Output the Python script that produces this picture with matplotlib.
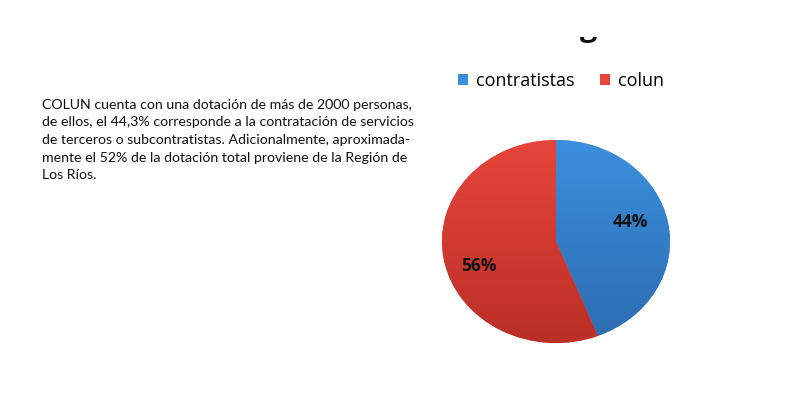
import matplotlib
matplotlib.use("Agg")
import matplotlib.pyplot as plt
import numpy as np
from matplotlib.colors import LinearSegmentedColormap
from matplotlib.patches import Rectangle

categories = ["contratistas", "colun"]
values = [44, 56]
colors_top = ["#3b8fde", "#e7453b"]
colors_bottom = ["#2d6cb0", "#ba2f27"]
pct_labels = ["44%", "56%"]
body_lines = [
    "COLUN cuenta con una dotación de más de 2000 personas,",
    "de ellos, el 44,3% corresponde a la contratación de servicios",
    "de terceros o subcontratistas. Adicionalmente, aproximada-",
    "mente el 52% de la dotación total proviene de la Región de",
    "Los Ríos.",
]
title_tail = "g"

W, H = 800, 398
fig = plt.figure(figsize=(W / 100, H / 100), dpi=100)
fig.patch.set_facecolor("white")

# body text
for i, line in enumerate(body_lines):
    fig.text(42 / W, 1 - (105 + i * 17.5) / H, line, fontsize=10.15,
             family="Lato", ha="left", va="center", color="#111111")

# pie
ax = fig.add_axes([442 / W, 1 - 343 / H, 228 / W, 203 / H])
wedges, texts = ax.pie(values, colors=colors_top, startangle=90, counterclock=False,
                       radius=1.0, wedgeprops=dict(linewidth=0))
ax.set_aspect("auto")
ax.axis("off")
grad = np.linspace(1, 0, 256).reshape(-1, 1)
for w, ct, cb in zip(wedges, colors_top, colors_bottom):
    cmap = LinearSegmentedColormap.from_list("g", [cb, ct])
    im = ax.imshow(grad, cmap=cmap, extent=(-1, 1, -1, 1), aspect="auto",
                   origin="upper", zorder=w.get_zorder() + 0.1)
    im.set_clip_path(w)
ax.set_xlim(-1, 1)
ax.set_ylim(-1, 1)
label_pos = [(0.65, 0.19), (-0.68, -0.24)]
for lab, (x, y) in zip(pct_labels, label_pos):
    ax.text(x, y, lab, ha="center", va="center", fontsize=12.5,
            fontweight="bold", family="Open Sans", color="#111111", zorder=5)

# legend
leg = fig.legend(wedges, categories, loc="center", bbox_to_anchor=(561 / W, 1 - 81 / H),
                 ncol=2, frameon=False, prop=dict(family="Open Sans", size=13),
                 handlelength=0.55, handleheight=0.55, handletextpad=0.45,
                 columnspacing=1.4)

# truncated title (only descender visible)
fig.text(589 / W, 1 - 36 / H, title_tail, fontsize=22, fontweight="bold",
         family="Open Sans", ha="center", va="baseline", color="#111111", zorder=3)
fig.patches.append(Rectangle((0, 1 - 37 / H), 1, 37 / H, transform=fig.transFigure,
                             facecolor="white", edgecolor="none", zorder=10))

fig.savefig("out.png", dpi=100, facecolor="white")
